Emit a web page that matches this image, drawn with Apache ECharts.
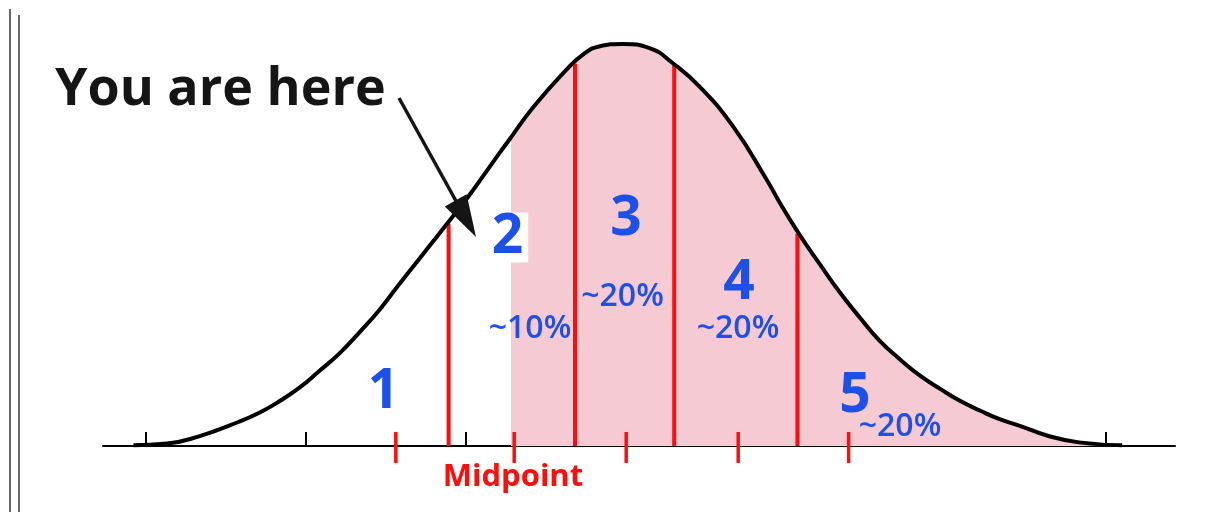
<!DOCTYPE html>
<html>
<head>
<meta charset="utf-8">
<script src="https://cdn.jsdelivr.net/npm/echarts@6/dist/echarts.min.js"></script>
<style>
html,body{margin:0;padding:0;background:#fff;}
#main{width:1232px;height:512px;}
</style>
</head>
<body>
<div id="main"></div>
<script>
// Bell curve (x in standard-deviation units, y in % of peak height)
var curveX = [-3.08, -2.87, -2.67, -2.42, -2.29, -2.17, -2.04, -1.92, -1.79, -1.67, -1.54, -1.42, -1.29, -1.17, -1.10, -1.00, -0.79, -0.72, -0.58, -0.37, -0.27, -0.17, -0.02, 0.15, 0.29, 0.46, 0.67, 0.88, 0.96, 1.08, 1.21, 1.33, 1.46, 1.58, 1.71, 1.83, 1.96, 2.08, 2.21, 2.33, 2.46, 2.63, 2.83, 3.10];
var curveY = [0.2, 0.6, 2.4, 6.0, 8.3, 11.0, 14.5, 18.5, 23.0, 28.0, 33.8, 40.0, 46.5, 52.5, 56.0, 61.0, 72.6, 76.4, 83.9, 93.3, 96.9, 98.9, 99.5, 98.4, 94.8, 88.9, 79.0, 65.8, 60.2, 52.5, 45.0, 38.3, 31.8, 26.2, 21.5, 17.6, 14.2, 11.3, 8.8, 6.7, 5.0, 2.6, 0.9, 0.2];
// shaded region starts here
var shadeStart = -0.72;
// red dividers between zones
var dividerX = [-1.11, -0.32, 0.30, 1.07];
var dividerTop = [55.0, 94.6, 94.4, 52.6];
// red range ticks on the axis
var rangeTickX = [-1.44, -0.70, 0.00, 0.70, 1.39];
// black axis ticks (sd)
var axisTicks = [-3, -2, -1, 0, 1, 2, 3];
// zone labels
var zoneLabels = ['1', '2', '3', '4', '5'];
var shareLabels = ['~10%', '~20%', '~20%', '~20%'];
var titleText = 'You are here';
var midText = 'Midpoint';

var BLUE = '#1c50e8', RED = '#ff0d0d', PINK = '#f5cad3', INK = '#151515';

var curve = curveX.map(function (x, i) { return [x, curveY[i]]; });
var shade = curve.filter(function (p) { return p[0] >= shadeStart; });
var dividers = dividerX.map(function (x, i) { return [x, dividerTop[i]]; });
var rangeTicks = rangeTickX.map(function (x) { return [x, 0]; });

var chart = echarts.init(document.getElementById('main'), null, {renderer: 'canvas'});

function txt(x, y, s, size, color, weight, extra) {
  var st = {text: s, x: x, y: y, fill: color, font: (weight || 'bold') + ' ' + size + 'px "Open Sans"', align: 'center', verticalAlign: 'middle'};
  if (extra) for (var k in extra) st[k] = extra[k];
  return {type: 'text', z: 100, style: st};
}

var option = {
  animation: false,
  backgroundColor: '#fff',
  grid: {left: 103, right: 57, top: 42, bottom: 66},
  xAxis: {
    type: 'value', min: -3.27, max: 3.43,
    axisLine: {show: true, onZero: true, lineStyle: {color: '#000', width: 2}},
    axisTick: {show: true, inside: true, length: 14, customValues: axisTicks, lineStyle: {color: '#000', width: 2}},
    axisLabel: {show: false},
    splitLine: {show: false}
  },
  yAxis: {type: 'value', min: 0, max: 100, show: false},
  series: [
    {
      type: 'line', data: shade, smooth: 0.5, symbol: 'none', z: 1,
      lineStyle: {width: 0, opacity: 0},
      areaStyle: {color: PINK, opacity: 1}
    },
    {
      type: 'custom', data: dividers, z: 3,
      renderItem: function (params, api) {
        var a = api.coord([api.value(0), 0]);
        var b = api.coord([api.value(0), api.value(1)]);
        return {type: 'line', shape: {x1: a[0], y1: a[1], x2: b[0], y2: b[1]}, style: {stroke: RED, lineWidth: 4}};
      }
    },
    {
      type: 'line', data: curve, smooth: 0.5, symbol: 'none', z: 5, clip: false,
      lineStyle: {color: '#000', width: 4}
    },
    {
      type: 'custom', data: rangeTicks, z: 6,
      renderItem: function (params, api) {
        var a = api.coord([api.value(0), 0]);
        return {type: 'line', shape: {x1: a[0], y1: a[1] - 14, x2: a[0], y2: a[1] + 17}, style: {stroke: RED, lineWidth: 3.5}};
      }
    }
  ],
  graphic: [
    {type: 'line', z: 100, shape: {x1: 10, y1: 9, x2: 10, y2: 512}, style: {stroke: '#333', lineWidth: 1.5}},
    {type: 'line', z: 100, shape: {x1: 19, y1: 15, x2: 19, y2: 512}, style: {stroke: '#333', lineWidth: 1.5}},
    {type: 'text', z: 100, style: {text: titleText, x: 55, y: 90, fill: INK, font: 'bold 52px "Open Sans"', align: 'left', verticalAlign: 'middle'}},
    {type: 'line', z: 100, shape: {x1: 399, y1: 98, x2: 456, y2: 201}, style: {stroke: INK, lineWidth: 3.5}},
    {type: 'polygon', z: 100, shape: {points: [[476, 237], [444.8, 206.4], [466.6, 194.2]]}, style: {fill: INK}},
    txt(383.5, 392.5, zoneLabels[0], 55, BLUE),
    txt(507.5, 237.5, zoneLabels[1], 55, BLUE, 'bold', {backgroundColor: '#fff', padding: [5, 5], lineHeight: 40}),
    txt(626, 219, zoneLabels[2], 55, BLUE),
    txt(739, 283, zoneLabels[3], 55, BLUE),
    txt(855, 396, zoneLabels[4], 55, BLUE),
    txt(530, 328.5, shareLabels[0], 32, BLUE, '600'),
    txt(622.5, 297, shareLabels[1], 32, BLUE, '600'),
    txt(738, 329, shareLabels[2], 32, BLUE, '600'),
    txt(900, 427, shareLabels[3], 32, BLUE, '600'),
    txt(513, 477, midText, 31, RED, 'bold')
  ]
};
chart.setOption(option);
</script>
</body>
</html>
